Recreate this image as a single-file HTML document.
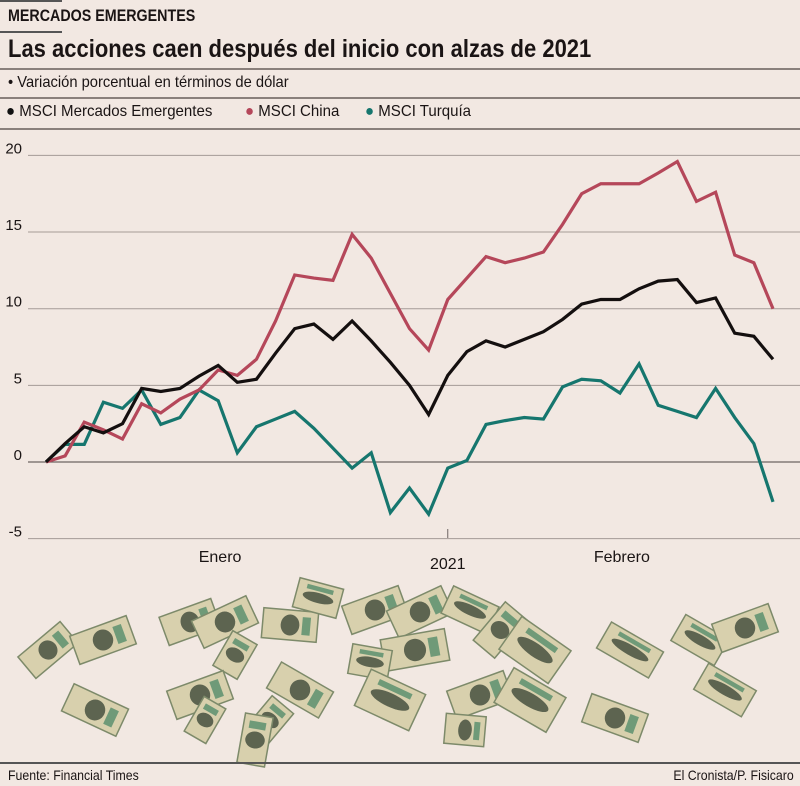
<!DOCTYPE html>
<html><head><meta charset="utf-8"><style>
body{margin:0;background:#f2e8e2;font-family:"Liberation Sans",sans-serif;}
#wrap{position:relative;width:800px;height:786px;overflow:hidden;background:#f2e8e2;}
.t{position:absolute;white-space:nowrap;color:#1a1414;transform-origin:left;}
.rule{position:absolute;height:1px;background:#8a807c;}
</style></head><body>
<div id="wrap">
<div class="rule" style="left:0;top:0;width:62px;height:2px;background:#555"></div>
<div class="t" style="left:8px;top:6px;font-size:17px;font-weight:bold;transform:scaleX(0.84)">MERCADOS EMERGENTES</div>
<div class="rule" style="left:0;top:31px;width:62px;height:2px;background:#555"></div>
<div class="t" style="left:8px;top:35px;font-size:25px;font-weight:bold;transform:scaleX(0.88)">Las acciones caen después del inicio con alzas de 2021</div>
<div class="rule" style="left:0;top:68px;width:800px;height:2px"></div>
<div class="t" style="left:8px;top:74px;font-size:16px;transform:scaleX(0.92)">• Variación porcentual en términos de dólar</div>
<div class="rule" style="left:0;top:97px;width:800px;height:2px"></div>
<div class="t" style="left:6px;top:103px;font-size:16px;transform:scaleX(0.94)"><span style="color:#111">●</span> MSCI Mercados Emergentes</div>
<div class="t" style="left:245px;top:103px;font-size:16px;transform:scaleX(0.94)"><span style="color:#b5475a">●</span> MSCI China</div>
<div class="t" style="left:365px;top:103px;font-size:16px;transform:scaleX(0.94)"><span style="color:#16766e">●</span> MSCI Turquía</div>
<div class="rule" style="left:0;top:128px;width:800px;height:2px"></div>
<svg id="chart" width="800" height="786" style="position:absolute;left:0;top:0"></svg>
<svg id="money" width="800" height="786" style="position:absolute;left:0;top:0"></svg>
<div class="rule" style="left:0;top:762px;width:800px;height:2px;background:#555"></div>
<div class="t" style="left:8px;top:767px;font-size:14px;transform:scaleX(0.88)">Fuente: Financial Times</div>
<div class="t" style="right:6px;top:767px;font-size:14px;transform:scaleX(0.88);transform-origin:right">El Cronista/P. Fisicaro</div>
</div>
<script>
const yTicks=[20,15,10,5,0,-5];
const em=[0,1.2,2.3,1.9,2.5,4.8,4.6,4.8,5.6,6.3,5.2,5.4,7.1,8.7,9.0,8.0,9.2,7.9,6.5,5.0,3.1,5.65,7.2,7.9,7.5,8.0,8.5,9.3,10.3,10.6,10.6,11.3,11.8,11.9,10.4,10.7,8.4,8.2,6.7];
const china=[0,0.4,2.6,2.1,1.5,3.8,3.2,4.1,4.7,6.0,5.65,6.7,9.2,12.2,12.0,11.85,14.85,13.3,11.0,8.7,7.3,10.6,12.0,13.4,13.0,13.3,13.7,15.5,17.5,18.15,18.15,18.15,18.85,19.6,17.0,17.6,13.5,13.0,10.0];
const turquia=[0,1.15,1.15,3.9,3.5,4.7,2.45,2.9,4.7,4.0,0.6,2.3,2.8,3.3,2.2,0.9,-0.4,0.6,-3.3,-1.7,-3.4,-0.4,0.1,2.45,2.7,2.9,2.8,4.9,5.4,5.3,4.5,6.4,3.7,3.3,2.9,4.8,2.9,1.2,-2.6];
const xLabels=["Enero","2021","Febrero"];
const xLabelIdx=[9.1,21.0,30.1];
const NS="http://www.w3.org/2000/svg";
const svg=document.getElementById('chart');
const y=v=>462-v*15.33;
const x=i=>46+i*(727/(em.length-1));
function mk(tag,attrs){const e=document.createElementNS(NS,tag);for(const k in attrs)e.setAttribute(k,attrs[k]);return e;}
yTicks.forEach(v=>{
  const l=mk('line',{x1:28,x2:800,y1:y(v),y2:y(v),stroke:v===0?'#6e6462':'#a59b97','stroke-width':v===0?1.3:1});
  
  
  svg.appendChild(l);
  const t=mk('text',{x:22,y:y(v)-2,'text-anchor':'end','font-size':15,fill:'#1a1414','font-family':'Liberation Sans, sans-serif'});
  t.textContent=v;
  
  
  svg.appendChild(t);
});
const tk=mk('line',{x1:x(xLabelIdx[1]),x2:x(xLabelIdx[1]),y1:529,y2:538,stroke:'#6e6462'});


svg.appendChild(tk);
xLabels.forEach((s,k)=>{
  const t=mk('text',{x:x(xLabelIdx[k]),y:k===1?569:562,'text-anchor':'middle','font-size':16,fill:'#1a1414','font-family':'Liberation Sans, sans-serif'});
  t.textContent=s;
  
  
  svg.appendChild(t);
});
[[turquia,'#16766e','series-turquia'],[china,'#b5475a','series-china'],[em,'#140f0f','series-emergentes']].forEach(([d,c,n])=>{
  const p=mk('polyline',{points:d.map((v,i)=>x(i)+','+y(v)).join(' '),fill:'none',stroke:c,'stroke-width':3.2,'stroke-linejoin':'miter'});
  
  
  svg.appendChild(p);
});
const bills=[[48,650,55,28,-40],[103,640,60,30,-20],[190,622,55,30,-20],[225,622,60,30,-25],[290,625,55,30,5],[318,598,30,45,-75],[375,610,60,30,-20],[420,612,60,30,-25],[470,610,30,50,-65],[500,630,50,28,-50],[415,650,65,32,-10],[370,662,30,40,-80],[235,655,40,28,-60],[300,690,60,30,30],[200,695,60,30,-20],[205,720,40,25,-60],[95,710,60,30,25],[270,720,40,28,-50],[255,740,50,28,-80],[390,700,40,60,-65],[480,695,60,30,-20],[465,730,40,30,5],[530,700,40,60,-60],[535,650,40,60,-55],[630,650,30,60,-60],[700,640,30,50,-60],[745,628,60,30,-20],[725,690,30,55,-60],[615,718,60,30,20]];
const m=document.getElementById('money');
bills.forEach(b=>{
  const g=mk('g',{transform:`translate(${b[0]},${b[1]}) rotate(${b[4]})`});
  
  
  g.appendChild(mk('rect',{x:-b[2]/2,y:-b[3]/2,width:b[2],height:b[3],fill:'#d8d0ad',stroke:'#7d8a6a','stroke-width':1.5}));
  g.appendChild(mk('ellipse',{cx:0,cy:0,rx:b[2]*0.17,ry:b[3]*0.35,fill:'#5d6450'}));
  g.appendChild(mk('rect',{x:b[2]*0.22,y:-b[3]*0.3,width:b[2]*0.15,height:b[3]*0.6,fill:'#6f9a78'}));
  m.appendChild(g);
});
</script>
</body></html>
